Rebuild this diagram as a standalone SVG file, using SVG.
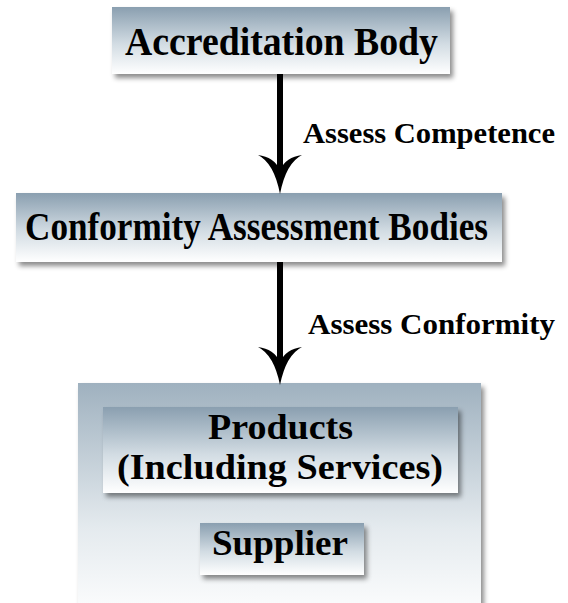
<svg xmlns="http://www.w3.org/2000/svg" width="568" height="603" viewBox="0 0 568 603">
  <defs>
    <linearGradient id="boxGrad" x1="0" y1="0" x2="0" y2="1">
      <stop offset="0" stop-color="#8a9fb0"/>
      <stop offset="0.55" stop-color="#d2dce3"/>
      <stop offset="1" stop-color="#ffffff"/>
    </linearGradient>
    <linearGradient id="outerGrad" x1="0" y1="0" x2="0" y2="1">
      <stop offset="0" stop-color="#9fb1bf"/>
      <stop offset="0.6" stop-color="#e4eaee"/>
      <stop offset="1" stop-color="#ffffff"/>
    </linearGradient>
    <filter id="shadow" x="-10%" y="-10%" width="125%" height="140%">
      <feDropShadow dx="3" dy="4" stdDeviation="2.5" flood-color="#000" flood-opacity="0.45"/>
    </filter>
    <style>
      .box { fill: url(#boxGrad); filter: url(#shadow); }
      .outer { fill: url(#outerGrad); filter: url(#shadow); }
      .t { font-family: "Liberation Serif", "Times New Roman", serif; font-weight: bold; fill: #000; }
      .conn { stroke: #000; stroke-width: 6; fill: none; }
      .head { fill: #000; }
    </style>
  </defs>

  <g id="accreditation-body">
    <rect class="box" x="112" y="7" width="338" height="67"/>
    <text class="t" x="125" y="55" font-size="39" textLength="313" lengthAdjust="spacingAndGlyphs">Accreditation Body</text>
  </g>

  <g id="conformity-assessment-bodies">
    <rect class="box" x="16" y="193" width="486" height="69"/>
    <text class="t" x="25" y="240" font-size="39" textLength="463" lengthAdjust="spacingAndGlyphs">Conformity Assessment Bodies</text>
  </g>

  <g id="products-supplier">
    <rect class="outer" x="78" y="383" width="403" height="240"/>
    <g id="products">
      <rect class="box" x="103" y="407" width="355" height="86"/>
      <text class="t" x="208" y="439" font-size="36" textLength="145" lengthAdjust="spacingAndGlyphs">Products</text>
      <text class="t" x="117" y="479" font-size="36" textLength="326" lengthAdjust="spacingAndGlyphs">(Including Services)</text>
    </g>
    <g id="supplier">
      <rect class="box" x="200" y="523" width="164" height="52"/>
      <text class="t" x="212" y="555" font-size="35" textLength="136" lengthAdjust="spacingAndGlyphs">Supplier</text>
    </g>
  </g>

  <g id="connectors">
    <line class="conn" x1="280" y1="74" x2="280" y2="170"/>
    <path class="head" d="M258,155 Q274,163 280,194 Q286,163 302,155 Q286,157 280,170 Q274,157 258,155 Z"/>
    <text class="t" x="303" y="143" font-size="29" textLength="252" lengthAdjust="spacingAndGlyphs">Assess Competence</text>

    <line class="conn" x1="280" y1="262" x2="280" y2="362"/>
    <path class="head" d="M258,347 Q274,355 280,385 Q286,355 302,347 Q286,349 280,362 Q274,349 258,347 Z"/>
    <text class="t" x="308" y="334" font-size="29" textLength="247" lengthAdjust="spacingAndGlyphs">Assess Conformity</text>
  </g>
</svg>
